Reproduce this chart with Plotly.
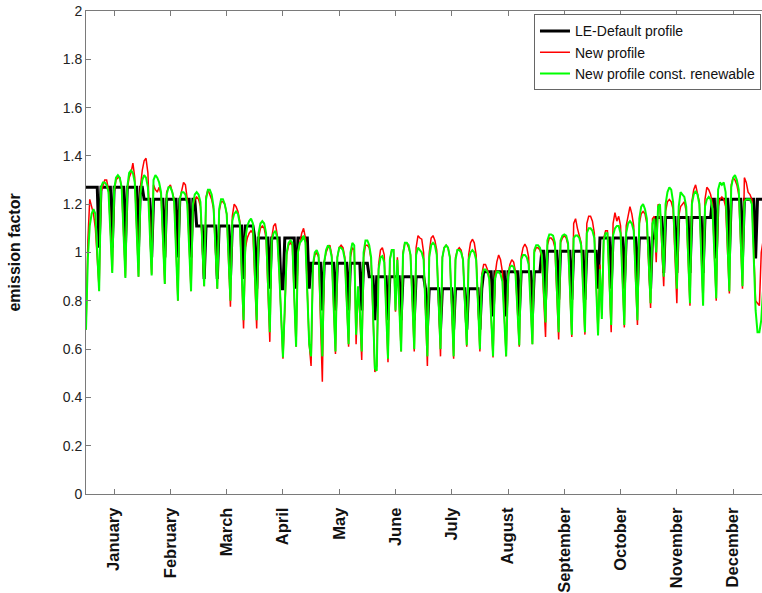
import plotly.graph_objects as go

# ---------------- data (daily values, day 0 = 1 January) ----------------
months = ["January", "February", "March", "April", "May", "June", "July",
          "August", "September", "October", "November", "December"]
month_tick_days = [15, 45, 75, 105, 135, 165, 195, 225, 255, 285, 315, 345]
y_ticks = [0, 0.2, 0.4, 0.6, 0.8, 1, 1.2, 1.4, 1.6, 1.8, 2]

le_default = [
    1.27, 1.27, 1.27, 1.27, 1.27, 1.27, 1.27,
    1.02, 1.27, 1.27, 1.27, 1.27, 1.27, 1.27,
    1.02, 1.27, 1.27, 1.27, 1.27, 1.27, 1.27,
    1.02, 1.27, 1.27, 1.27, 1.27, 1.27, 1.27,
    1.02, 1.27, 1.27, 1.22, 1.22, 1.22, 1.22,
    0.98, 1.22, 1.22, 1.22, 1.22, 1.22, 1.22,
    0.98, 1.22, 1.22, 1.22, 1.22, 1.22, 1.22,
    0.98, 1.22, 1.22, 1.22, 1.22, 1.22, 1.22,
    0.98, 1.22, 1.22, 1.11, 1.11, 1.11, 1.11,
    0.89, 1.11, 1.11, 1.11, 1.11, 1.11, 1.11,
    0.89, 1.11, 1.11, 1.11, 1.11, 1.11, 1.11,
    0.89, 1.11, 1.11, 1.11, 1.11, 1.11, 1.11,
    0.89, 1.11, 1.11, 1.11, 1.11, 1.11, 1.06,
    0.85, 1.06, 1.06, 1.06, 1.06, 1.06, 1.06,
    0.85, 1.06, 1.06, 1.06, 1.06, 1.06, 0.85,
    0.85, 1.06, 1.06, 1.06, 1.06, 1.06, 1.06,
    0.85, 1.06, 1.06, 1.06, 1.06, 1.06, 1.06,
    0.85, 0.955, 0.955, 0.955, 0.955, 0.955, 0.955,
    0.76, 0.955, 0.955, 0.955, 0.955, 0.955, 0.955,
    0.76, 0.955, 0.955, 0.955, 0.955, 0.955, 0.955,
    0.76, 0.955, 0.955, 0.955, 0.955, 0.955, 0.955,
    0.76, 0.955, 0.955, 0.955, 0.90, 0.90, 0.90,
    0.72, 0.90, 0.90, 0.90, 0.90, 0.90, 0.90,
    0.72, 0.90, 0.90, 0.90, 0.90, 0.90, 0.90,
    0.72, 0.90, 0.90, 0.90, 0.90, 0.90, 0.90,
    0.72, 0.90, 0.90, 0.90, 0.90, 0.90, 0.85,
    0.68, 0.85, 0.85, 0.85, 0.85, 0.85, 0.85,
    0.68, 0.85, 0.85, 0.85, 0.85, 0.85, 0.85,
    0.68, 0.85, 0.85, 0.85, 0.85, 0.85, 0.85,
    0.68, 0.85, 0.85, 0.85, 0.85, 0.85, 0.85,
    0.68, 0.85, 0.92, 0.92, 0.92, 0.92, 0.92,
    0.735, 0.92, 0.92, 0.92, 0.92, 0.92, 0.92,
    0.735, 0.92, 0.92, 0.92, 0.92, 0.92, 0.92,
    0.735, 0.92, 0.92, 0.92, 0.92, 0.92, 0.92,
    0.735, 0.92, 0.92, 0.92, 0.92, 1.005, 1.005,
    0.805, 1.005, 1.005, 1.005, 1.005, 1.005, 1.005,
    0.805, 1.005, 1.005, 1.005, 1.005, 1.005, 1.005,
    0.805, 1.005, 1.005, 1.005, 1.005, 1.005, 1.005,
    0.805, 1.005, 1.005, 1.005, 1.005, 1.005, 1.005,
    0.85, 1.06, 1.06, 1.06, 1.06, 1.06, 1.06,
    0.85, 1.06, 1.06, 1.06, 1.06, 1.06, 1.06,
    0.85, 1.06, 1.06, 1.06, 1.06, 1.06, 1.06,
    0.85, 1.06, 1.06, 1.06, 1.06, 1.06, 1.06,
    0.85, 1.06, 1.06, 1.145, 1.145, 1.145, 1.145,
    0.915, 1.145, 1.145, 1.145, 1.145, 1.145, 1.145,
    0.915, 1.145, 1.145, 1.145, 1.145, 1.145, 1.145,
    0.915, 1.145, 1.145, 1.145, 1.145, 1.145, 1.145,
    0.915, 1.145, 1.145, 1.145, 1.145, 1.22, 1.22,
    0.975, 1.22, 1.22, 1.22, 1.22, 1.22, 1.22,
    0.975, 1.22, 1.22, 1.22, 1.22, 1.22, 1.22,
    0.975, 1.22, 1.22, 1.22, 1.22, 1.22, 1.22,
    0.975, 1.22, 1.22, 1.22, 1.22, 1.22, 1.22,
    0.975,
]

new_profile = [
    0.68, 1.05, 1.22, 1.19, 1.16, 1.10, 0.97,
    0.85, 1.25, 1.28, 1.30, 1.30, 1.26, 1.10,
    0.92, 1.25, 1.30, 1.31, 1.31, 1.27, 1.09,
    0.90, 1.26, 1.31, 1.33, 1.37, 1.31, 1.10,
    0.90, 1.27, 1.34, 1.38, 1.39, 1.33, 1.10,
    0.91, 1.28, 1.26, 1.25, 1.27, 1.24, 1.05,
    0.87, 1.25, 1.27, 1.28, 1.25, 1.22, 1.02,
    0.80, 1.22, 1.26, 1.29, 1.28, 1.22, 1.03,
    0.84, 1.19, 1.22, 1.23, 1.22, 1.19, 1.03,
    0.86, 1.23, 1.26, 1.24, 1.22, 1.18, 1.02,
    0.85, 1.17, 1.21, 1.21, 1.20, 1.16, 0.98,
    0.775, 1.15, 1.20, 1.19, 1.17, 1.13, 0.92,
    0.685, 1.02, 1.06, 1.08, 1.09, 1.08, 0.90,
    0.685, 1.06, 1.10, 1.11, 1.10, 1.06, 0.86,
    0.63, 1.06, 1.11, 1.12, 1.07, 0.92, 0.74,
    0.56, 0.76, 0.99, 1.03, 1.04, 1.03, 0.84,
    0.61, 1.00, 1.05, 1.08, 1.10, 1.06, 0.84,
    0.62, 0.53, 0.94, 0.99, 1.00, 0.98, 0.76,
    0.465, 0.96, 1.00, 1.02, 1.03, 0.99, 0.79,
    0.58, 0.98, 1.02, 1.03, 1.02, 0.98, 0.79,
    0.61, 0.98, 1.02, 1.01, 0.62, 0.85, 0.74,
    0.555, 0.98, 1.03, 1.03, 1.02, 0.97, 0.75,
    0.505, 0.53, 0.95, 1.01, 1.02, 0.99, 0.74,
    0.546, 0.97, 1.01, 1.01, 0.755, 0.98, 0.79,
    0.59, 1.00, 1.04, 1.04, 1.02, 0.99, 0.80,
    0.59, 1.02, 1.07, 1.06, 1.055, 1.00, 0.77,
    0.53, 1.00, 1.06, 1.07, 1.05, 1.01, 0.79,
    0.57, 0.98, 1.02, 1.03, 1.02, 0.98, 0.78,
    0.56, 0.98, 1.01, 1.02, 1.01, 0.97, 0.80,
    0.61, 0.99, 1.04, 1.055, 1.04, 0.99, 0.79,
    0.59, 0.91, 0.95, 0.95, 0.93, 0.90, 0.74,
    0.565, 0.90, 0.96, 0.99, 0.97, 0.92, 0.74,
    0.57, 0.91, 0.95, 0.97, 0.96, 0.92, 0.77,
    0.61, 0.98, 1.02, 1.035, 1.02, 0.98, 0.79,
    0.62, 1.00, 1.02, 1.02, 1.01, 0.98, 0.83,
    0.65, 1.03, 1.06, 1.06, 1.05, 1.02, 0.84,
    0.64, 1.04, 1.06, 1.07, 1.06, 1.03, 0.85,
    0.65, 1.12, 1.14, 1.10, 1.07, 1.04, 0.86,
    0.66, 1.12, 1.15, 1.15, 1.13, 1.08, 0.85,
    0.67, 0.95, 0.74, 1.06, 1.09, 1.09, 0.87,
    0.67, 1.12, 1.165, 1.13, 1.15, 1.11, 0.88,
    0.69, 1.11, 1.16, 1.19, 1.16, 1.11, 0.89,
    0.70, 1.12, 1.16, 1.17, 1.16, 1.12, 0.95,
    0.77, 1.14, 1.15, 0.96, 1.20, 1.19, 1.03,
    0.86, 1.17, 1.21, 1.22, 1.21, 1.18, 1.00,
    0.79, 1.15, 1.19, 1.20, 1.21, 1.17, 0.97,
    0.78, 1.21, 1.26, 1.28, 1.25, 1.21, 1.00,
    0.79, 1.22, 1.27, 1.26, 1.24, 1.20, 0.99,
    0.80, 1.19, 1.22, 1.23, 1.22, 1.19, 1.00,
    0.83, 1.28, 1.31, 1.30, 1.28, 1.24, 1.05,
    0.85, 1.31, 1.29, 1.25, 1.24, 1.22, 1.00,
    0.80, 0.79, 0.78, 1.00, 1.05, 1.03, 0.90,
    0.80,
]

new_profile_const_ren = [
    0.68, 0.98, 1.11, 1.16, 1.18, 1.16, 1.00,
    0.84, 1.27, 1.29, 1.29, 1.28, 1.25, 1.09,
    0.915, 1.26, 1.31, 1.32, 1.31, 1.27, 1.09,
    0.895, 1.27, 1.33, 1.34, 1.33, 1.29, 1.10,
    0.90, 1.24, 1.30, 1.32, 1.31, 1.27, 1.09,
    0.905, 1.30, 1.32, 1.31, 1.29, 1.25, 1.05,
    0.87, 1.24, 1.27, 1.27, 1.25, 1.21, 1.02,
    0.80, 1.22, 1.25, 1.25, 1.24, 1.20, 1.03,
    0.84, 1.20, 1.24, 1.25, 1.24, 1.21, 1.04,
    0.86, 1.22, 1.26, 1.26, 1.24, 1.19, 1.02,
    0.85, 1.18, 1.22, 1.22, 1.20, 1.16, 0.99,
    0.80, 1.13, 1.16, 1.17, 1.16, 1.12, 0.93,
    0.72, 1.06, 1.11, 1.13, 1.14, 1.12, 0.93,
    0.72, 1.08, 1.12, 1.13, 1.12, 1.08, 0.88,
    0.67, 1.05, 1.08, 1.09, 1.06, 0.92, 0.75,
    0.565, 0.78, 1.00, 1.04, 1.05, 1.04, 0.85,
    0.61, 1.00, 1.04, 1.05, 1.07, 1.04, 0.83,
    0.62, 0.57, 0.95, 1.00, 1.01, 0.99, 0.80,
    0.57, 0.96, 1.01, 1.03, 1.02, 0.98, 0.79,
    0.59, 0.98, 1.02, 1.02, 1.01, 0.97, 0.79,
    0.62, 1.00, 1.04, 1.03, 0.66, 0.86, 0.76,
    0.59, 1.00, 1.05, 1.05, 1.03, 0.98, 0.76,
    0.52, 0.51, 0.93, 0.98, 0.985, 0.96, 0.75,
    0.56, 0.97, 1.01, 1.01, 0.76, 0.97, 0.80,
    0.59, 0.99, 1.04, 1.04, 1.03, 0.99, 0.80,
    0.60, 0.99, 1.02, 1.01, 1.00, 0.97, 0.78,
    0.57, 0.98, 1.03, 1.04, 1.03, 0.99, 0.80,
    0.60, 0.98, 1.02, 1.03, 1.02, 0.98, 0.78,
    0.57, 0.97, 1.01, 1.01, 1.00, 0.97, 0.80,
    0.616, 0.97, 1.00, 1.01, 1.00, 0.97, 0.79,
    0.60, 0.90, 0.93, 0.93, 0.92, 0.89, 0.74,
    0.57, 0.89, 0.92, 0.92, 0.91, 0.88, 0.74,
    0.57, 0.90, 0.94, 0.945, 0.94, 0.91, 0.77,
    0.616, 0.97, 0.99, 0.99, 0.98, 0.95, 0.79,
    0.62, 1.01, 1.03, 1.03, 1.02, 0.99, 0.85,
    0.71, 1.05, 1.075, 1.075, 1.07, 1.04, 0.86,
    0.67, 1.05, 1.07, 1.075, 1.07, 1.04, 0.86,
    0.66, 1.06, 1.07, 1.07, 1.06, 1.03, 0.86,
    0.67, 1.08, 1.10, 1.10, 1.09, 1.06, 0.86,
    0.656, 0.93, 0.725, 1.05, 1.08, 1.08, 0.88,
    0.70, 1.07, 1.10, 1.11, 1.11, 1.08, 0.89,
    0.70, 1.08, 1.12, 1.13, 1.12, 1.09, 0.89,
    0.72, 1.14, 1.19, 1.20, 1.18, 1.14, 0.96,
    0.79, 1.12, 1.14, 1.00, 1.19, 1.20, 1.05,
    0.90, 1.20, 1.25, 1.27, 1.26, 1.21, 1.03,
    0.85, 1.19, 1.25, 1.24, 1.23, 1.19, 0.98,
    0.79, 1.20, 1.24, 1.255, 1.24, 1.20, 0.99,
    0.78, 1.19, 1.22, 1.23, 1.22, 1.18, 0.99,
    0.81, 1.26, 1.29, 1.28, 1.29, 1.25, 1.04,
    0.84, 1.27, 1.31, 1.32, 1.30, 1.26, 1.06,
    0.86, 1.21, 1.22, 1.22, 1.22, 1.20, 0.98,
    0.76, 0.67, 0.67, 0.72, 0.85, 0.85, 0.75,
    0.70,
]

day = list(range(len(le_default)))

# ---------------- figure ----------------
FONT = "Liberation Sans, Arial, Helvetica, sans-serif"
AXIS_COLOR = "#7a7a7a"

fig = go.Figure()
fig.add_trace(go.Scatter(x=day, y=le_default, mode="lines", name="LE-Default profile",
                         line=dict(color="#000000", width=3)))
fig.add_trace(go.Scatter(x=day, y=new_profile, mode="lines", name="New profile",
                         line=dict(color="#ff0000", width=1.5)))
fig.add_trace(go.Scatter(x=day, y=new_profile_const_ren, mode="lines",
                         name="New profile const. renewable",
                         line=dict(color="#00ff00", width=2)))

fig.update_layout(
    width=762, height=593,
    margin=dict(l=86, r=0, t=11, b=97),
    paper_bgcolor="white", plot_bgcolor="white",
    font=dict(family=FONT, color="#222222"),
    showlegend=True,
    legend=dict(x=0.6627, y=0.993, xanchor="left", yanchor="top",
                bgcolor="white", bordercolor="#666666", borderwidth=1,
                font=dict(family=FONT, size=14, color="#111111"),
                itemwidth=30, tracegroupgap=0),
    xaxis=dict(range=[0, 360.4], tickmode="array", tickvals=month_tick_days,
               ticktext=months, tickangle=-90, ticklabelstandoff=6,
               tickfont=dict(family=FONT, size=16.5, color="#111111", weight="bold"),
               ticks="inside", ticklen=5, tickcolor=AXIS_COLOR,
               showline=True, linecolor=AXIS_COLOR, linewidth=1, mirror="ticks",
               showgrid=False, zeroline=False),
    yaxis=dict(range=[0, 2], tickmode="array", tickvals=y_ticks,
               ticktext=[f"{v:g}" for v in y_ticks],
               tickfont=dict(family=FONT, size=14, color="#222222"),
               ticks="inside", ticklen=5, tickcolor=AXIS_COLOR,
               showline=True, linecolor=AXIS_COLOR, linewidth=1, mirror=False,
               showgrid=False, zeroline=False),
    annotations=[dict(text="emission factor", textangle=-90, showarrow=False,
                      xref="paper", yref="paper", x=-0.1064, y=0.5,
                      xanchor="center", yanchor="middle",
                      font=dict(family=FONT, size=16, color="#111111", weight="bold"))],
)

fig.write_html("out.html", config={"displayModeBar": False},
               post_script="document.body.style.margin='0px';"
                           "document.body.style.overflow='hidden';")
